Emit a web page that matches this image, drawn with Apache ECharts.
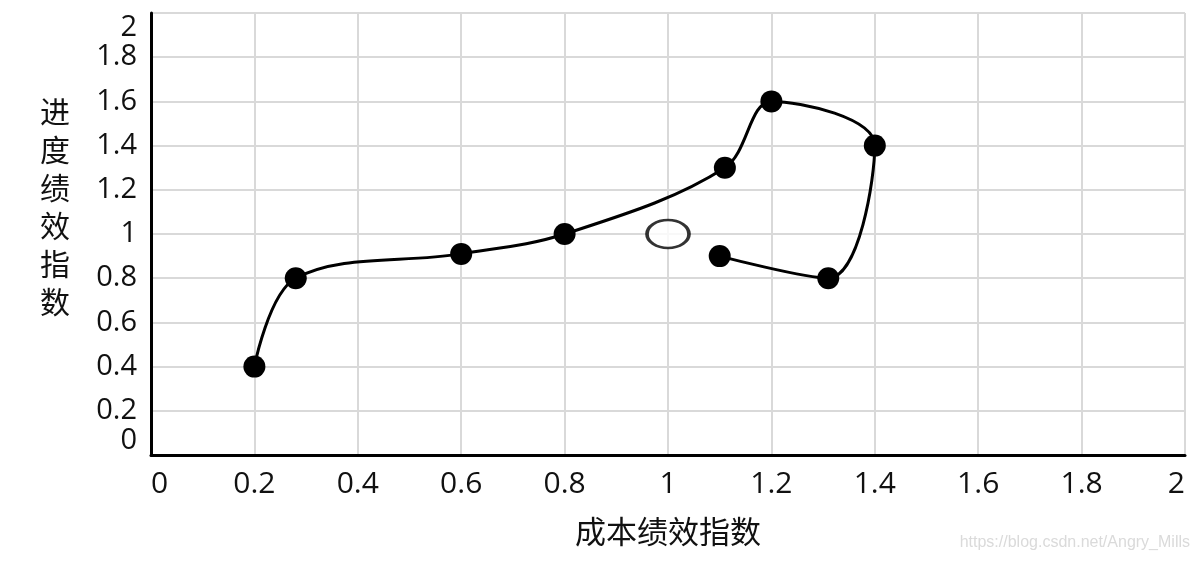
<!DOCTYPE html>
<html>
<head>
<meta charset="utf-8">
<script src="https://cdn.jsdelivr.net/npm/echarts@6/dist/echarts.min.js"></script>
<style>
html,body{margin:0;padding:0;background:#fff;}
#c{width:1200px;height:563px;}
</style>
</head>
<body>
<div id="c"></div>
<script>
var xName = '成本绩效指数';
var yName = '进度绩效指数';
var cpi = [0.2, 0.28, 0.6, 0.8, 1.11, 1.2, 1.4, 1.31, 1.1];
var spi = [0.4, 0.8, 0.91, 1.0, 1.3, 1.6, 1.4, 0.8, 0.9];
var markerCpi = [1.0];
var markerSpi = [1.0];
var watermark = 'https://blog.csdn.net/Angry_Mills';

var font = '"Open Sans", "Noto Sans CJK SC", sans-serif';
var chart = echarts.init(document.getElementById('c'), null, {renderer: 'canvas'});
chart.setOption({
  animation: false,
  backgroundColor: '#fff',
  grid: {left: 151, right: 15, top: 13, bottom: 108, containLabel: false},
  xAxis: {
    type: 'value', min: 0, max: 2, interval: 0.2,
    name: xName, nameLocation: 'middle', nameGap: 64,
    nameTextStyle: {fontSize: 31, color: '#111', fontFamily: font},
    axisLine: {show: true, onZero: false, lineStyle: {color: '#000', width: 3}},
    axisTick: {show: false},
    splitLine: {show: true, lineStyle: {color: '#d9d9d9', width: 2}},
    axisLabel: {fontSize: 30, color: '#111', fontFamily: font, margin: 14,
      showMinLabel: true, showMaxLabel: true, hideOverlap: false,
      alignMinLabel: 'left', alignMaxLabel: 'right',
      formatter: function (v) { return String(+v.toFixed(1)); }}
  },
  yAxis: {
    type: 'value', min: 0, max: 2, interval: 0.2,
    axisLine: {show: true, onZero: false, lineStyle: {color: '#000', width: 3}},
    axisTick: {show: false},
    splitLine: {show: true, lineStyle: {color: '#d9d9d9', width: 2}},
    axisLabel: {fontSize: 29, color: '#111', fontFamily: font, margin: 14,
      showMinLabel: true, showMaxLabel: true, hideOverlap: false,
      verticalAlignMinLabel: 'bottom', verticalAlignMaxLabel: 'top',
      formatter: function (v) { return String(+v.toFixed(1)); }}
  },
  series: [
    {
      type: 'line',
      data: cpi.map(function (x, i) { return [x, spi[i]]; }),
      smooth: 0.35,
      symbol: 'circle', symbolSize: 22,
      lineStyle: {color: '#000', width: 3},
      itemStyle: {color: '#000'},
      z: 3
    },
    {
      type: 'scatter',
      data: markerCpi.map(function (x, i) { return [x, markerSpi[i]]; }),
      symbol: 'circle', symbolSize: [42, 28],
      itemStyle: {color: '#fff', borderColor: '#000', borderWidth: 3},
      z: 4
    }
  ],
  graphic: [
    {
      type: 'text', x: 55, y: 209,
      style: {text: yName.split('').join('\n'), fontSize: 30, lineHeight: 38, fill: '#111',
        fontFamily: font, align: 'center', verticalAlign: 'middle'}
    },
    {
      type: 'text', right: 10, top: 535,
      style: {text: watermark, fontSize: 16, fill: '#dadada', fontFamily: 'Arial, "Liberation Sans", sans-serif'}
    }
  ]
});
</script>
</body>
</html>
